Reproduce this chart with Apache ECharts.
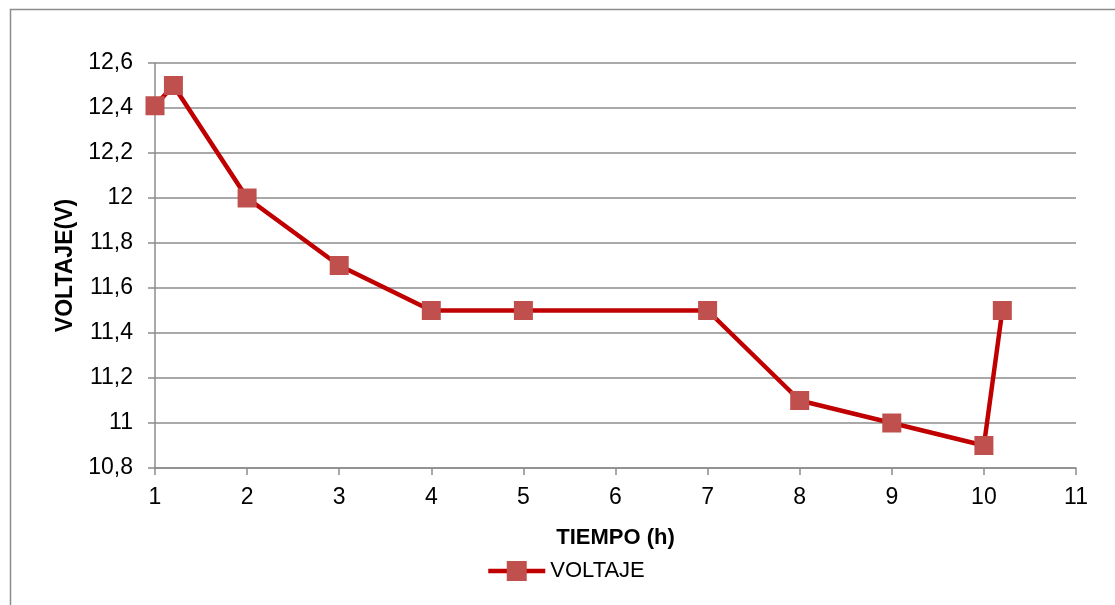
<!DOCTYPE html>
<html>
<head>
<meta charset="utf-8">
<script src="https://cdn.jsdelivr.net/npm/echarts@6/dist/echarts.min.js"></script>
<style>
html,body{margin:0;padding:0;background:#fff;}
#chart{width:1115px;height:605px;}
</style>
</head>
<body>
<div id="chart"></div>
<script>
var tiempo = [1, 1.2, 2, 3, 4, 5, 7, 8, 9, 10, 10.2];
var voltaje = [12.41, 12.5, 12.0, 11.7, 11.5, 11.5, 11.5, 11.1, 11.0, 10.9, 11.5];
var seriesName = 'VOLTAJE';
var xName = 'TIEMPO (h)';
var yName = 'VOLTAJE(V)';

var FONT = '"Liberation Sans Narrow", "Liberation Sans", Arial, sans-serif';
var chart = echarts.init(document.getElementById('chart'));
var data = tiempo.map(function (t, i) { return [t, voltaje[i]]; });
function fmt(v) { return String(Number(v.toFixed(1))).replace('.', ','); }

chart.setOption({
  animation: false,
  backgroundColor: '#fff',
  graphic: [{
    type: 'rect',
    shape: { x: 10.5, y: 9.5, width: 1200, height: 700 },
    style: { fill: 'none', stroke: '#8c8c8c', lineWidth: 1.5 },
    silent: true
  }],
  grid: { left: 155, right: 39, top: 63, bottom: 137 },
  legend: {
    data: [seriesName],
    left: 481,
    top: 555,
    itemWidth: 57,
    itemHeight: 25,
    textStyle: { fontFamily: FONT, fontSize: 22, color: '#000' },
    lineStyle: { width: 4.5, color: '#C00000' },
    itemStyle: { color: '#C0504D' }
  },
  xAxis: {
    type: 'value',
    min: 1, max: 11, interval: 1,
    name: xName,
    nameLocation: 'middle',
    nameGap: 59,
    nameTextStyle: { fontFamily: FONT, fontSize: 22, fontWeight: 'bold', color: '#000' },
    axisLine: { show: true, lineStyle: { color: '#8c8c8c', width: 1.5 } },
    axisTick: { show: true, length: 7, lineStyle: { color: '#8c8c8c', width: 1.5 } },
    axisLabel: { fontFamily: FONT, fontSize: 23, color: '#000', margin: 18, formatter: fmt },
    splitLine: { show: false }
  },
  yAxis: {
    type: 'value',
    min: 10.8, max: 12.6, interval: 0.2,
    name: yName,
    nameLocation: 'middle',
    nameRotate: 90,
    nameGap: 74,
    nameTextStyle: { fontFamily: FONT, fontSize: 23, fontWeight: 'bold', color: '#000' },
    axisLine: { show: true, lineStyle: { color: '#8c8c8c', width: 1.5 } },
    axisTick: { show: true, length: 7, lineStyle: { color: '#8c8c8c', width: 1.5 } },
    axisLabel: { fontFamily: FONT, fontSize: 23, color: '#000', margin: 22, formatter: fmt },
    splitLine: { show: true, lineStyle: { color: '#8c8c8c', width: 1.5 } }
  },
  series: [{
    name: seriesName,
    type: 'line',
    data: data,
    symbol: 'rect',
    symbolSize: 19,
    lineStyle: { color: '#C00000', width: 4.5 },
    itemStyle: { color: '#C0504D', borderWidth: 0 },
    z: 3
  }]
});
</script>
</body>
</html>
